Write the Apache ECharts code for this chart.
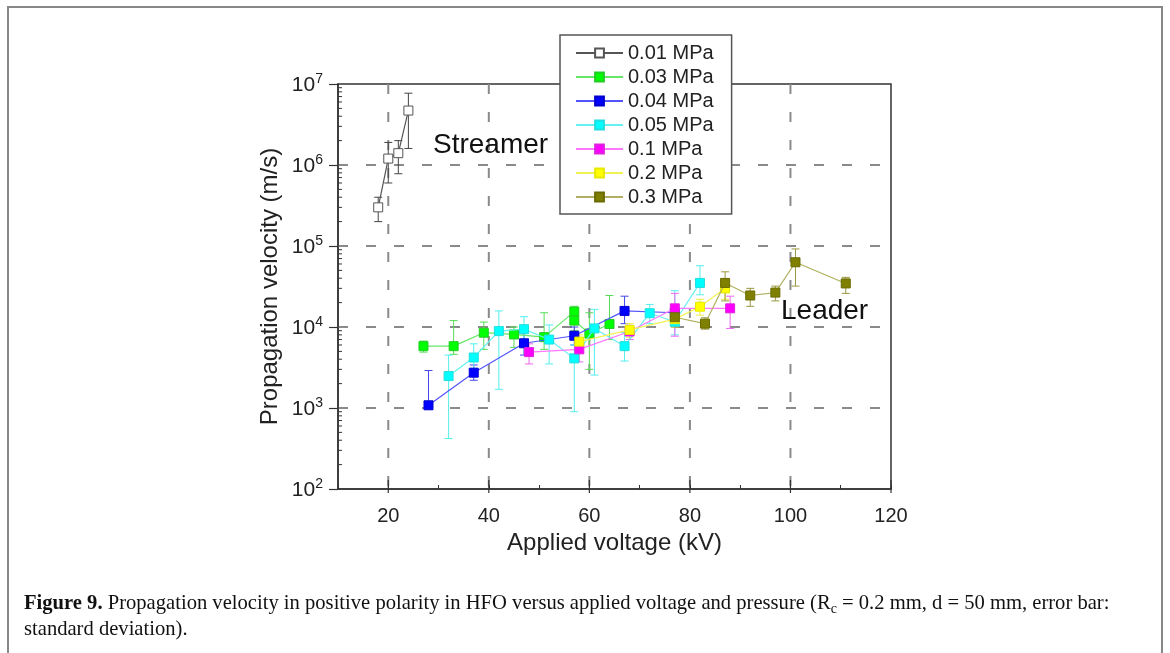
<!DOCTYPE html>
<html>
<head>
<meta charset="utf-8">
<script src="https://cdn.jsdelivr.net/npm/echarts@6/dist/echarts.min.js"></script>
<style>
    html, body { margin: 0; padding: 0; background: #fff; }
    #chart { width: 1170px; height: 653px; }
</style>
</head>
<body>
<div id="chart"></div>
<script>
    var pressures = ['0.01 MPa', '0.03 MPa', '0.04 MPa', '0.05 MPa', '0.1 MPa', '0.2 MPa', '0.3 MPa'];

    // 0.01 MPa
    var volt001 = [18, 20, 22, 24];
    var vel001 = [3.0e5, 1.2e6, 1.4e6, 4.7e6];
    var lo001 = [2.0e5, 6.0e5, 7.8e5, 1.6e6];
    var hi001 = [4.0e5, 1.9e6, 2.0e6, 7.7e6];
    // 0.03 MPa
    var volt003 = [27, 33, 39, 45, 51, 57, 57, 60, 64];
    var vel003 = [5.8e3, 5.8e3, 8.5e3, 8.1e3, 7.5e3, 1.55e4, 1.2e4, 8.3e3, 1.09e4];
    var lo003 = [4.9e3, 4.6e3, 5.3e3, 5.6e3, 5.3e3, 1.3e4, 9.0e3, 3.0e3, 7.0e3];
    var hi003 = [6.7e3, 1.2e4, 1.15e4, 1.0e4, 1.5e4, 1.8e4, 1.5e4, 1.5e4, 2.45e4];
    // 0.04 MPa
    var volt004 = [28, 37, 47, 57, 67, 77];
    var vel004 = [1.08e3, 2.73e3, 6.3e3, 7.8e3, 1.58e4, 1.5e4];
    var lo004 = [1.08e3, 2.2e3, 4.5e3, 6.0e3, 1.1e4, 1.2e4];
    var hi004 = [2.9e3, 3.4e3, 8.5e3, 1.0e4, 2.4e4, 1.8e4];
    // 0.05 MPa
    var volt005 = [32, 37, 42, 47, 52, 57, 61, 67, 72, 77, 82];
    var vel005 = [2.48e3, 4.2e3, 8.9e3, 9.4e3, 7.0e3, 4.1e3, 9.6e3, 5.8e3, 1.48e4, 1.16e4, 3.5e4];
    var lo005 = [420, 3.0e3, 1.7e3, 6.5e3, 3.5e3, 900, 2.55e3, 3.8e3, 1.1e4, 8.0e3, 2.5e4];
    var hi005 = [4.5e3, 6.2e3, 1.58e4, 1.34e4, 1.06e4, 6.0e3, 1.65e4, 8.5e3, 1.9e4, 2.8e4, 5.7e4];
    // 0.1 MPa
    var volt01 = [48, 58, 68, 77, 88];
    var vel01 = [4.9e3, 5.3e3, 8.8e3, 1.7e4, 1.7e4];
    var lo01 = [3.5e3, 3.7e3, 7.0e3, 7.7e3, 9.6e3];
    var hi01 = [6.2e3, 7.0e3, 1.05e4, 2.6e4, 2.4e4];
    // 0.2 MPa
    var volt02 = [58, 68, 77, 82, 87];
    var vel02 = [6.6e3, 9.2e3, 1.25e4, 1.78e4, 3.0e4];
    var lo02 = [5.0e3, 7.5e3, 1.0e4, 1.4e4, 2.2e4];
    var hi02 = [8.0e3, 1.1e4, 1.5e4, 2.2e4, 3.8e4];
    // 0.3 MPa
    var volt03 = [77, 83, 87, 92, 97, 101, 111];
    var vel03 = [1.32e4, 1.1e4, 3.5e4, 2.45e4, 2.66e4, 6.3e4, 3.45e4];
    var lo03 = [1.0e4, 9.4e3, 2.1e4, 1.8e4, 2.1e4, 3.2e4, 2.6e4];
    var hi03 = [1.7e4, 1.3e4, 4.8e4, 3.0e4, 3.2e4, 9.2e4, 4.1e4];

    // axis ticks
    var xLabelTicks = [20, 40, 60, 80, 100, 120];
    var xGridLines = [20, 40, 60, 80, 100];
    var yDecades = [1e2, 1e3, 1e4, 1e5, 1e6];
    var yMinorSteps = [2, 3, 4, 5, 6, 7, 8, 9];

    var volts = [volt001, volt003, volt004, volt005, volt01, volt02, volt03];
    var vels = [vel001, vel003, vel004, vel005, vel01, vel02, vel03];
    var los = [lo001, lo003, lo004, lo005, lo01, lo02, lo03];
    var his = [hi001, hi003, hi004, hi005, hi01, hi02, hi03];

    var fillColors = ['#ffffff', '#00ff00', '#0000ff', '#00ffff', '#ff00ff', '#ffff00', '#808000'];
    var edgeColors = ['#555555', '#22cc22', '#0000cc', '#22dddd', '#dd22dd', '#e8e800', '#6a6a00'];
    var lineColors = ['#555555', '#66e666', '#5555ff', '#66f0f0', '#ff77ff', '#f2f255', '#b0b060'];
    var errColors = ['#444444', '#55dd55', '#4444ee', '#55eeee', '#ee66ee', '#eeee44', '#999940'];

    var font = 'Liberation Sans, Arial, sans-serif';
    var serif = 'Liberation Serif, Times New Roman, serif';

    function errRender(color) {
        return function (params, api) {
            var x = api.value(0);
            var a = api.coord([x, api.value(1)]);
            var b = api.coord([x, api.value(2)]);
            var w = 4;
            var st = { stroke: color, lineWidth: 1 };
            return {
                type: 'group',
                children: [
                    { type: 'line', shape: { x1: a[0], y1: a[1], x2: b[0], y2: b[1] }, style: st },
                    { type: 'line', shape: { x1: a[0] - w, y1: a[1], x2: a[0] + w, y2: a[1] }, style: st },
                    { type: 'line', shape: { x1: b[0] - w, y1: b[1], x2: b[0] + w, y2: b[1] }, style: st }
                ]
            };
        };
    }

    var series = [];

    // vertical dashed grid lines
    series.push({
        name: 'gridX',
        type: 'custom',
        silent: true,
        z: 0,
        data: xGridLines.map(function (v) { return [v, 1e3]; }),
        renderItem: function (params, api) {
            var cs = params.coordSys;
            var p = api.coord([api.value(0), api.value(1)]);
            return {
                type: 'line',
                shape: { x1: p[0], y1: cs.y, x2: p[0], y2: cs.y + cs.height },
                style: { stroke: '#8a8a8a', lineWidth: 2, lineDash: [10, 18] }
            };
        }
    });

    // y minor ticks (log)
    var yMinor = [];
    yDecades.forEach(function (d) {
        yMinorSteps.forEach(function (m) { yMinor.push([10, d * m]); });
    });
    series.push({
        name: 'yMinor',
        type: 'custom',
        silent: true,
        z: 5,
        data: yMinor,
        renderItem: function (params, api) {
            var p = api.coord([api.value(0), api.value(1)]);
            return {
                type: 'line',
                shape: { x1: p[0], y1: p[1], x2: p[0] + 4, y2: p[1] },
                style: { stroke: '#333', lineWidth: 1 }
            };
        }
    });

    // major x ticks crossing the axis
    series.push({
        name: 'xMajor',
        type: 'custom',
        silent: true,
        z: 5,
        data: xLabelTicks.map(function (v) { return [v, 100]; }),
        renderItem: function (params, api) {
            var p = api.coord([api.value(0), api.value(1)]);
            return {
                type: 'line',
                shape: { x1: p[0], y1: p[1] - 9, x2: p[0], y2: p[1] + 4 },
                style: { stroke: '#333', lineWidth: 1.2 }
            };
        }
    });

    for (var i = 0; i < pressures.length; i++) {
        var xs = volts[i];
        series.push({
            name: 'err ' + pressures[i],
            type: 'custom',
            silent: true,
            z: 1,
            encode: { x: 0, y: [1, 2] },
            data: xs.map(function (v, j) { return [v, los[i][j], his[i][j]]; }),
            renderItem: errRender(errColors[i])
        });
    }
    for (var k = 0; k < pressures.length; k++) {
        series.push({
            name: pressures[k],
            type: 'line',
            z: 3 + k * 0.01,
            symbol: 'rect',
            symbolSize: 9,
            data: volts[k].map(function (v, j) { return [v, vels[k][j]]; }),
            itemStyle: { color: fillColors[k], borderColor: edgeColors[k], borderWidth: 1, opacity: 1 },
            lineStyle: { color: lineColors[k], width: 1.2 },
            emphasis: { disabled: true }
        });
    }

    var myChart = echarts.init(document.getElementById('chart'));
    var option = {
        animation: false,
        backgroundColor: '#fff',
        grid: {
            left: 338,
            right: 279,
            top: 84,
            bottom: 164,
            show: true,
            borderColor: '#333',
            borderWidth: 1.5,
            backgroundColor: 'transparent'
        },
        legend: {
            data: pressures,
            orient: 'vertical',
            left: 560,
            top: 35,
            padding: [8, 18, 7, 15],
            itemGap: 4,
            itemWidth: 47,
            itemHeight: 11,
            backgroundColor: '#fff',
            borderColor: '#555',
            borderWidth: 1.5,
            borderRadius: 0,
            selectedMode: false,
            textStyle: { fontFamily: font, fontSize: 20, color: '#222', lineHeight: 20 }
        },
        xAxis: [{
            type: 'value',
            min: 10,
            max: 120,
            interval: 10,
            name: 'Applied voltage (kV)',
            nameLocation: 'middle',
            nameGap: 42,
            nameTextStyle: { fontFamily: font, fontSize: 24, color: '#222' },
            axisLine: { show: true, lineStyle: { color: '#333', width: 1.5 } },
            axisTick: { show: false },
            axisLabel: {
                customValues: xLabelTicks,
                margin: 17,
                fontFamily: font,
                fontSize: 20,
                color: '#222'
            },
            splitLine: { show: false }
        }, {
            type: 'value',
            min: 10,
            max: 120,
            interval: 10,
            position: 'bottom',
            axisLine: { show: false },
            axisTick: { show: true, inside: true, length: 4, lineStyle: { color: '#333', width: 1 } },
            axisLabel: { show: false },
            splitLine: { show: false }
        }],
        yAxis: {
            type: 'log',
            logBase: 10,
            min: 100,
            max: 1e7,
            name: 'Propagation velocity (m/s)',
            nameLocation: 'middle',
            nameGap: 56,
            nameTextStyle: { fontFamily: font, fontSize: 24, color: '#222' },
            axisLine: { show: true, lineStyle: { color: '#333', width: 1.5 } },
            axisTick: { show: true, inside: false, length: 9, lineStyle: { color: '#333', width: 1.2 } },
            axisLabel: {
                margin: 15,
                fontFamily: font,
                color: '#222',
                formatter: function (v) {
                    var e = Math.round(Math.log(v) / Math.LN10);
                    return '{b|10}{s|' + e + '}';
                },
                rich: {
                    b: { fontFamily: font, fontSize: 21, color: '#222', lineHeight: 24, verticalAlign: 'bottom' },
                    s: { fontFamily: font, fontSize: 14, color: '#222', lineHeight: 24, verticalAlign: 'top' }
                }
            },
            splitLine: {
                show: true,
                showMinLine: false,
                showMaxLine: false,
                lineStyle: { color: '#8a8a8a', width: 2, type: [10, 18] }
            }
        },
        graphic: [
            {
                type: 'rect',
                silent: true,
                z: -10,
                shape: { x: 8, y: 7, width: 1154, height: 660 },
                style: { fill: 'none', stroke: '#888', lineWidth: 2 }
            },
            {
                type: 'text',
                z: 10,
                style: { x: 433, y: 145, text: 'Streamer', font: '28px ' + font, fill: '#111', verticalAlign: 'middle' }
            },
            {
                type: 'text',
                z: 10,
                style: { x: 781, y: 311, text: 'Leader', font: '28px ' + font, fill: '#111', verticalAlign: 'middle' }
            },
            {
                type: 'text',
                z: 10,
                style: {
                    x: 24,
                    y: 604,
                    verticalAlign: 'middle',
                    text: '{b|Figure 9.} Propagation velocity in positive polarity in HFO versus applied voltage and pressure (R{sub|c} = 0.2 mm, d = 50 mm, error bar:',
                    font: '20.6px ' + serif,
                    fill: '#111',
                    rich: {
                        b: { font: 'bold 20.6px ' + serif, fill: '#111' },
                        sub: { font: '14px ' + serif, fill: '#111', verticalAlign: 'bottom', lineHeight: 24 }
                    }
                }
            },
            {
                type: 'text',
                z: 10,
                style: {
                    x: 24,
                    y: 630,
                    verticalAlign: 'middle',
                    text: 'standard deviation).',
                    font: '20.6px ' + serif,
                    fill: '#111'
                }
            }
        ],
        series: series
    };
    myChart.setOption(option);
</script>
</body>
</html>
